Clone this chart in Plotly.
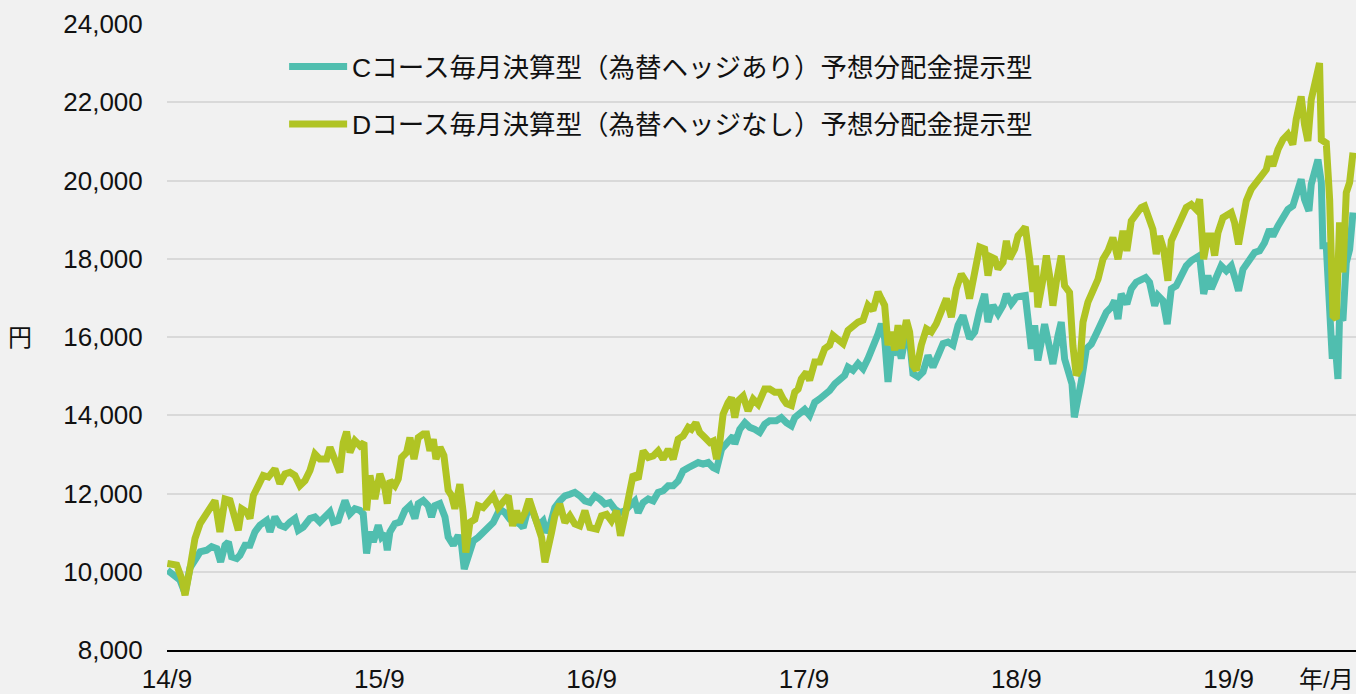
import plotly.graph_objects as go

# time axis: months elapsed since 2014/9
c_month = [0.02, 0.55, 0.73, 1.02, 1.30, 1.58, 1.87, 2.24, 2.52, 2.81, 3.03, 3.28, 3.47, 3.65, 3.94, 4.12, 4.41, 4.69, 4.97, 5.25,
           5.63, 5.82, 6.10, 6.38, 6.67, 6.95, 7.23, 7.42, 7.70, 8.08, 8.36, 8.64, 8.93, 9.21, 9.40, 9.68, 9.87, 10.06, 10.34, 10.62,
           10.90, 11.09, 11.28, 11.47, 11.66, 11.94, 12.13, 12.32, 12.45, 12.60, 12.88, 13.16, 13.45, 13.73, 14.01, 14.20, 14.48, 14.76, 14.95, 15.14,
           15.42, 15.71, 15.89, 16.18, 16.46, 16.65, 16.80, 17.03, 17.31, 17.59, 17.87, 18.16, 18.44, 18.81, 19.10, 19.38, 19.66, 19.94, 20.13, 20.42,
           20.70, 20.98, 21.26, 21.45, 21.64, 21.92, 22.20, 22.49, 22.77, 23.05, 23.33, 23.62, 23.90, 24.18, 24.46, 24.75, 25.03, 25.31, 25.59, 25.88,
           26.16, 26.44, 26.63, 26.91, 27.20, 27.48, 27.76, 28.04, 28.33, 28.61, 28.89, 29.17, 29.46, 29.74, 30.02, 30.30, 30.59, 30.87, 31.06, 31.34,
           31.62, 32.00, 32.09, 32.37, 32.66, 32.94, 33.22, 33.50, 33.78, 34.06, 34.44, 34.72, 35.01, 35.29, 35.48, 35.76, 36.04, 36.32, 36.61, 36.89,
           37.17, 37.45, 37.74, 38.02, 38.30, 38.49, 38.77, 39.06, 39.34, 39.62, 39.90, 40.19, 40.37, 40.56, 40.75, 40.94, 41.13, 41.32, 41.50, 41.79,
           41.97, 42.16, 42.45, 42.73, 43.01, 43.29, 43.58, 43.86, 44.14, 44.42, 44.71, 44.99, 45.36, 45.65, 45.93, 46.21, 46.40, 46.68, 46.97, 47.25,
           47.44, 47.72, 48.00, 48.28, 48.51, 48.66, 48.85, 49.04, 49.22, 49.60, 49.79, 50.07, 50.36, 50.54, 50.73, 51.01, 51.15, 51.28, 51.45, 51.67,
           51.96, 52.24, 52.52, 52.80, 53.09, 53.37, 53.56, 53.75, 53.93, 54.25, 54.50, 54.78, 55.06, 55.31, 55.53, 55.82, 56.01, 56.29, 56.53, 56.76,
           57.04, 57.32, 57.61, 57.89, 58.17, 58.36, 58.59, 58.83, 59.02, 59.30, 59.58, 59.87, 60.15, 60.43, 60.56, 60.81, 61.09, 61.47, 61.75, 62.03,
           62.31, 62.50, 62.79, 63.07, 63.35, 63.63, 63.82, 64.10, 64.29, 64.54, 64.67, 64.86, 65.05, 65.24, 65.33, 65.52, 65.71, 65.86, 65.99, 66.18,
           66.27, 66.46, 66.65, 66.84, 67.03]
c_value = [10040, 9870, 9790, 9450, 10100, 10300, 10510, 10550, 10640, 10590, 10250, 10680, 10760, 10380, 10340, 10420, 10680, 10680, 11020, 11190,
           11310, 11020, 11400, 11190, 11140, 11270, 11360, 11060, 11140, 11360, 11400, 11270, 11400, 11530, 11270, 11310, 11570, 11820, 11480, 11610,
           11570, 11480, 10470, 11020, 10760, 11190, 10890, 10970, 10550, 11020, 11230, 11270, 11570, 11690, 11360, 11740, 11820, 11690, 11400, 11690,
           11740, 11400, 10890, 10680, 10930, 10680, 10070, 10410, 10790, 10880, 11000, 11170, 11260, 11600, 11510, 11340, 11300, 11220, 11130, 11640,
           11510, 11170, 11300, 11000, 11170, 11640, 11810, 11940, 11980, 12030, 11940, 11810, 11770, 11940, 11860, 11730, 11770, 11600, 11510, 11560,
           11690, 11810, 11510, 11770, 11860, 11810, 12030, 12070, 12200, 12200, 12320, 12580, 12660, 12710, 12790, 12750, 12790, 12660, 12620, 13130,
           13300, 13470, 13260, 13640, 13810, 13690, 13640, 13560, 13770, 13860, 13860, 13940, 13810, 13730, 13940, 14030, 14150, 14000, 14330, 14420,
           14500, 14630, 14800, 14890, 15020, 15230, 15150, 15320, 15190, 15450, 15740, 16080, 16340, 15960, 14850, 15660, 15620, 15790, 15450, 16130,
           15910, 15060, 14980, 15110, 15530, 15230, 15530, 15830, 15870, 15790, 16300, 16550, 15960, 16130, 16680, 17100, 16380, 16810, 16590, 16810,
           17100, 16850, 17020, 17060, 17060, 16470, 15700, 16300, 15400, 16330, 15870, 15310, 16040, 16380, 15440, 14970, 14800, 13950, 14300, 14850,
           15700, 15820, 16080, 16380, 16630, 16760, 16930, 16460, 17100, 16840, 17230, 17400, 17440, 17520, 17400, 16800, 17060, 16930, 16330, 17230,
           17310, 17610, 17820, 17950, 18030, 18080, 17100, 17570, 17230, 17480, 17820, 17690, 17820, 17400, 17180, 17730, 17950, 18160, 18200, 18410,
           18750, 18580, 18840, 19090, 19260, 19350, 19600, 20030, 19520, 19220, 19900, 20160, 20535, 19950, 18330, 18330, 16540, 15440, 16030, 14930,
           16540, 16420, 17900, 18240, 19180]

d_month = [0.02, 0.55, 0.83, 1.02, 1.30, 1.58, 1.87, 2.15, 2.43, 2.71, 2.99, 3.28, 3.56, 3.84, 4.03, 4.22, 4.50, 4.69, 4.88, 5.16,
           5.44, 5.73, 6.10, 6.38, 6.67, 6.95, 7.23, 7.51, 7.80, 8.08, 8.36, 8.64, 9.02, 9.21, 9.49, 9.77, 9.96, 10.15, 10.34, 10.62,
           10.90, 11.13, 11.28, 11.47, 11.75, 12.03, 12.32, 12.45, 12.60, 12.88, 13.07, 13.26, 13.54, 13.73, 13.96, 14.20, 14.48, 14.67, 14.86, 15.05,
           15.20, 15.43, 15.65, 15.89, 16.08, 16.27, 16.55, 16.74, 16.89, 17.12, 17.40, 17.59, 17.87, 18.16, 18.44, 18.72, 19.00, 19.29, 19.53, 19.76,
           19.94, 20.23, 20.47, 20.70, 20.98, 21.17, 21.36, 21.55, 21.73, 21.92, 22.20, 22.49, 22.77, 23.05, 23.33, 23.62, 23.90, 24.28, 24.56, 24.84,
           25.12, 25.41, 25.63, 25.88, 26.16, 26.35, 26.63, 26.91, 27.20, 27.48, 27.76, 28.04, 28.33, 28.61, 28.89, 29.17, 29.46, 29.64, 29.89, 30.11,
           30.40, 30.68, 30.87, 31.06, 31.24, 31.43, 31.71, 31.90, 32.09, 32.28, 32.56, 32.84, 33.13, 33.41, 33.78, 34.06, 34.35, 34.63, 34.82, 35.01,
           35.29, 35.48, 35.67, 35.85, 36.14, 36.32, 36.61, 36.89, 37.17, 37.45, 37.64, 37.93, 38.21, 38.49, 38.77, 39.06, 39.34, 39.62, 39.90, 40.19,
           40.37, 40.56, 40.75, 40.94, 41.13, 41.32, 41.50, 41.79, 41.97, 42.16, 42.35, 42.63, 42.92, 43.20, 43.48, 43.76, 44.05, 44.33, 44.61, 44.89,
           45.18, 45.36, 45.65, 45.93, 46.21, 46.40, 46.59, 46.78, 46.97, 47.25, 47.44, 47.62, 47.91, 48.10, 48.28, 48.51, 48.75, 48.94, 49.09, 49.22,
           49.51, 49.70, 49.88, 50.07, 50.26, 50.54, 50.73, 51.01, 51.20, 51.39, 51.58, 51.77, 52.05, 52.33, 52.62, 52.90, 53.18, 53.46, 53.75, 54.03,
           54.25, 54.50, 54.78, 55.06, 55.25, 55.53, 55.72, 55.91, 56.10, 56.33, 56.57, 56.76, 57.04, 57.32, 57.61, 57.89, 58.17, 58.36, 58.59, 58.83,
           59.02, 59.21, 59.40, 59.68, 59.96, 60.15, 60.34, 60.56, 60.81, 61.00, 61.28, 61.56, 61.84, 62.13, 62.31, 62.50, 62.79, 63.07, 63.35, 63.63,
           63.82, 64.10, 64.29, 64.48, 64.67, 64.86, 65.14, 65.24, 65.52, 65.71, 65.80, 65.90, 66.09, 66.27, 66.37, 66.46, 66.65, 66.84, 67.03]
d_value = [10210, 10170, 9830, 9400, 10085, 10850, 11230, 11440, 11570, 11820, 11020, 11860, 11820, 11310, 11060, 11610, 11530, 11360, 11950, 12200,
           12460, 12420, 12630, 12250, 12500, 12540, 12460, 12200, 12330, 12590, 13010, 12880, 12880, 13180, 12800, 12540, 13300, 13580, 13050, 13350,
           13220, 13300, 11570, 12460, 11860, 12500, 12120, 11740, 12330, 12200, 12370, 12920, 13050, 13430, 12880, 13430, 13520, 13520, 13090, 13390,
           12880, 13180, 12970, 12080, 11950, 11610, 12240, 11510, 10490, 11260, 11340, 11690, 11640, 11770, 11940, 11640, 11770, 11940, 11170, 11560,
           11260, 11510, 11860, 11510, 11170, 10880, 10240, 10750, 11000, 11430, 11730, 11260, 11430, 11220, 11170, 11560, 11130, 11090, 11430, 11470,
           11300, 11560, 10920, 11430, 12030, 12490, 12370, 13090, 12920, 12960, 13090, 12880, 13130, 12880, 13390, 13470, 13690, 13640, 13810, 13560,
           13430, 13300, 13340, 12880, 13300, 14030, 14320, 14450, 13940, 14370, 14490, 14110, 14410, 14280, 14670, 14670, 14590, 14590, 14420, 14300,
           14250, 14590, 14670, 14930, 15100, 14890, 15360, 15360, 15700, 15790, 16040, 15910, 15830, 16170, 16300, 16380, 16430, 16810, 16680, 17150,
           16980, 16810, 15790, 16130, 15660, 16300, 15700, 16430, 16130, 15280, 15150, 15790, 16210, 16130, 16340, 16640, 16980, 16510, 17230, 17610,
           17400, 16980, 17660, 18300, 18250, 17570, 18040, 18000, 17740, 17910, 18460, 18000, 18250, 18590, 18680, 18810, 18000, 17150, 17830, 16760,
           17480, 18080, 17570, 16800, 17400, 18080, 17310, 17140, 15780, 15020, 15190, 16380, 16890, 17230, 17480, 17990, 18200, 18540, 17990, 18710,
           18200, 18970, 19180, 19310, 19350, 19010, 18750, 18120, 18580, 18240, 17440, 18460, 18750, 19090, 19310, 19390, 19260, 19520, 17990, 18580,
           18580, 18080, 18670, 19050, 19140, 19180, 18920, 18370, 19010, 19480, 19780, 19940, 20110, 20280, 20620, 20370, 20790, 21050, 21180, 20920,
           21560, 22150, 21430, 21010, 22070, 22410, 23000, 21040, 20960, 19520, 18240, 16540, 16460, 18930, 18240, 17650, 19690, 19950, 20710]

tick_months = [0, 12, 24, 36, 48, 60]
tick_labels = ["14/9", "15/9", "16/9", "17/9", "18/9", "19/9"]
y_ticks = [8000, 10000, 12000, 14000, 16000, 18000, 20000, 22000, 24000]

name_c = "Cコース毎月決算型（為替ヘッジあり）予想分配金提示型"
name_d = "Dコース毎月決算型（為替ヘッジなし）予想分配金提示型"

FONT = "Liberation Sans, Arial, Noto Sans CJK JP, sans-serif"
BG = "#f1f1f1"

fig = go.Figure()
fig.add_trace(go.Scatter(x=c_month, y=c_value, mode="lines", name=name_c, legendgroup="c",
                         line=dict(color="#50beaf", width=7)))
fig.add_trace(go.Scatter(x=d_month, y=d_value, mode="lines", name=name_d, legendgroup="d",
                         line=dict(color="#b0c424", width=7)))

fig.update_layout(
    width=1356, height=694,
    paper_bgcolor=BG, plot_bgcolor=BG,
    margin=dict(l=167, r=0, t=24, b=42),
    font=dict(family=FONT, size=26, color="#111111"),
    showlegend=True,
    legend=dict(x=0.0985, y=0.97, xanchor="left", yanchor="top", bgcolor="rgba(0,0,0,0)",
                itemwidth=58, font=dict(size=26.5, family=FONT), tracegroupgap=20,
                traceorder="grouped"),
    xaxis=dict(range=[0, 67.2], tickvals=tick_months, ticktext=tick_labels, showgrid=False,
               zeroline=False, showline=True, linecolor="#000000", linewidth=2,
               ticks="outside", ticklen=5, tickcolor="rgba(0,0,0,0)",
               tickfont=dict(size=26, family=FONT)),
    yaxis=dict(range=[8000, 24000], tickvals=y_ticks, tickformat=",", showgrid=True,
               gridcolor="#d9d9d9", gridwidth=2, zeroline=False, showline=False,
               ticks="outside", ticklen=18, tickcolor="rgba(0,0,0,0)",
               tickfont=dict(size=26, family=FONT)),
    annotations=[
        dict(text="円", x=-0.124, y=0.5, xref="paper", yref="paper", xanchor="center",
             yanchor="middle", showarrow=False, font=dict(size=24, family=FONT)),
        dict(text="年/月", x=1, y=0, xref="paper", yref="paper", xanchor="right", yanchor="top",
             yshift=-14, showarrow=False, font=dict(size=24, family=FONT)),
    ],
)

fig.write_html("out.html", config={"displayModeBar": False},
               post_script="document.body.style.margin='0';document.body.style.overflow='hidden';")
